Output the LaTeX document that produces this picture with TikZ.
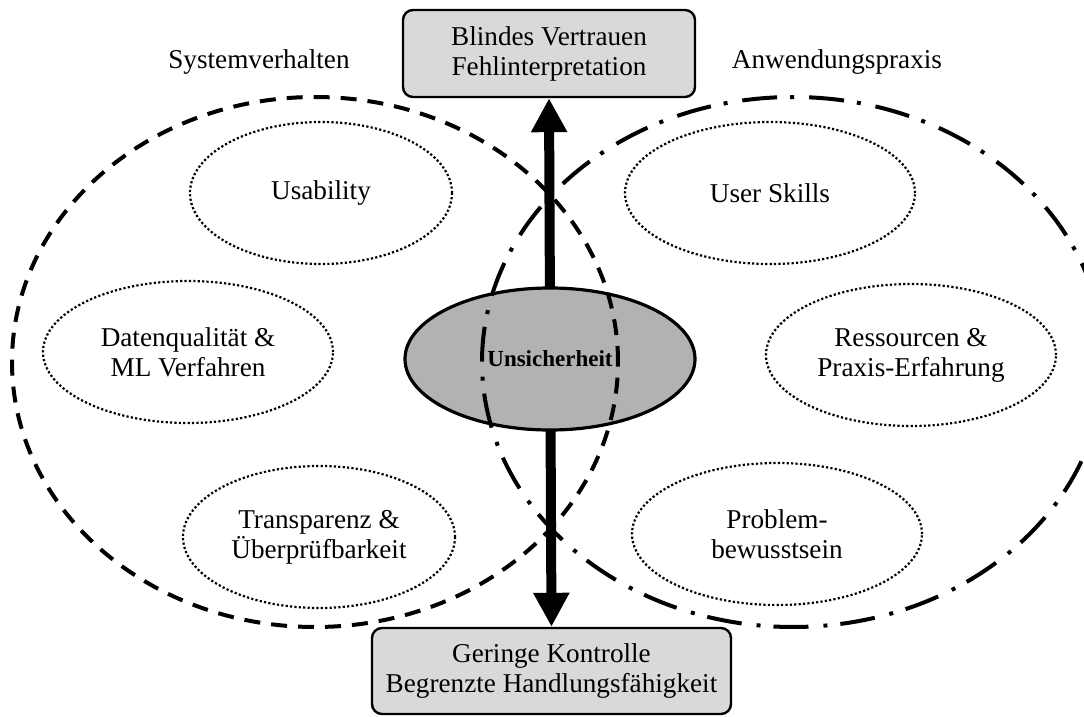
\documentclass[tikz,border=0pt]{standalone}
\usepackage{fontspec}
\setmainfont{Liberation Serif}
\usetikzlibrary{arrows.meta,shapes.geometric}

\begin{document}
\begin{tikzpicture}[x=0.5pt, y=-0.5pt,
    txt/.style={font=\fontsize{13.6}{15}\selectfont, align=center},
    outcome/.style={txt, draw, line width=1.2pt, fill=black!15, rounded corners=5pt, inner sep=0pt},
    factor/.style={txt, ellipse, draw, line width=1.1pt, dash pattern=on 1.1pt off 1.1pt,
                   minimum width=145pt, minimum height=71pt, inner sep=0pt},
    core/.style={ellipse, draw, line width=1.6pt, fill=black!30, inner sep=0pt,
                 font=\fontsize{11.5}{12}\selectfont\bfseries},
    bigarrow/.style={line width=5pt, {Triangle[length=17pt, width=17pt]}-{Triangle[length=17pt, width=17pt]}}]

  % Frame
  \clip (0, 0) rectangle (1084, 717);

  % Outcome boxes
  \node[outcome, minimum width=146pt, minimum height=43.5pt] (top) at (549, 53.5)
    {Blindes Vertrauen\\Fehlinterpretation};
  \node[outcome, minimum width=179.5pt, minimum height=43pt] (bottom) at (551.5, 671)
    {Geringe Kontrolle\\Begrenzte Handlungsfähigkeit};

  % Axis between the two outcomes
  \draw[bigarrow] (top.south) -- (bottom.north);

  % Centre
  \node[core, minimum width=145pt, minimum height=71pt] (unc) at (550, 359) {Unsicherheit};

  % Group titles
  \node[txt] (sys) at (259, 62) {Systemverhalten};
  \node[txt] (anw) at (837, 62) {Anwendungspraxis};

  % Systemverhalten (dashed)
  \draw[line width=2pt, dash pattern=on 8pt off 5.5pt] (315, 362) ellipse [x radius=151.5pt, y radius=132.5pt];
  % Anwendungspraxis (dash dot)
  \draw[line width=2pt, dash pattern=on 17.5pt off 7.5pt on 2pt off 6.5pt] (793, 362) ellipse [x radius=155.5pt, y radius=132.5pt];

  % Factors, left
  \node[factor, minimum width=131pt] (usab) at (321, 193) {Usability};
  \node[factor] (daten) at (188, 352) {Datenqualität \&\\ML Verfahren};
  \node[factor, minimum width=136pt] (transp) at (319, 537) {Transparenz \&\\Überprüfbarkeit};

  % Factors, right
  \node[factor] (skills) at (770, 193) {User Skills};
  \node[factor] (ress) at (911, 355) {Ressourcen \&\\Praxis-Erfahrung};
  \node[factor] (probl) at (777, 534) {Problem-\\bewusstsein};

\end{tikzpicture}
\end{document}
